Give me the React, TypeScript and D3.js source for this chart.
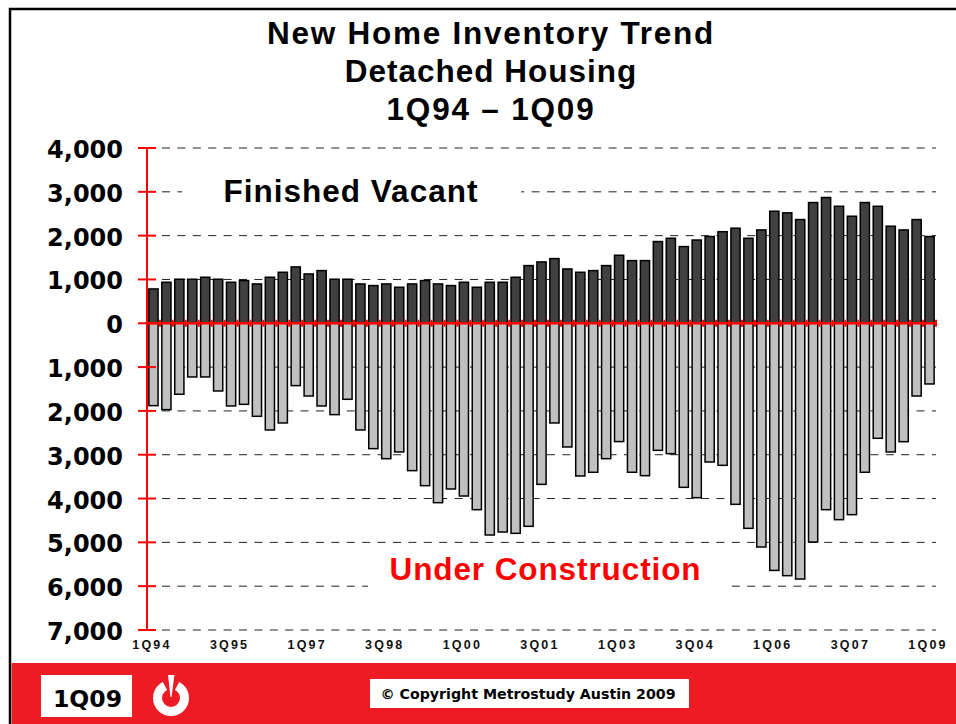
import React from "react";
import * as d3 from "d3";

const quarters = d3.range(0, 61).map((i) => {
  const yy = 94 + Math.floor(i / 4);
  return `${(i % 4) + 1}Q${String(yy % 100).padStart(2, "0")}`;
});
const finishedVacant = [784,936,1005,1005,1050,1005,936,974,898,1050,1164,1286,1126,1202,1005,1005,898,860,898,822,898,974,898,860,936,822,936,936,1050,1316,1400,1476,1240,1164,1202,1316,1552,1430,1430,1865,1940,1750,1900,1980,2090,2170,1940,2130,2557,2520,2367,2755,2870,2670,2443,2755,2670,2215,2130,2367,1980];
const underConstruction = [1880,1971,1620,1225,1225,1545,1887,1850,2123,2435,2275,1423,1660,1887,2085,1735,2435,2861,3090,2937,3363,3706,4094,3782,3942,4254,4832,4763,4794,4634,3676,2275,2823,3485,3400,3090,2700,3400,3478,2900,2976,3744,3980,3166,3242,4132,4680,5106,5640,5760,5837,4992,4254,4482,4368,3400,2625,2937,2702,1660,1385];
const yTicks = [4000,3000,2000,1000,0,-1000,-2000,-3000,-4000,-5000,-6000,-7000];
const xLabels = ["1Q94","3Q95","1Q97","3Q98","1Q00","3Q01","1Q03","3Q04","1Q06","3Q07","1Q09"];
const titleLines = ["New Home Inventory Trend","Detached Housing","1Q94 – 1Q09"];
const titleSpacing = [1.75,1.0,1.8];

const RED = "#ff0000";
const BAND = "#ed1c24";
const y = d3.scaleLinear().domain([4000,-7000]).range([148,630]);
const x = d3.scaleBand<string>().domain(quarters).range([147,936]).paddingInner(0.29).paddingOuter(0.145);
const fmt = d3.format(",");
const head = "'DejaVu Sans', sans-serif";
const arial = "'Liberation Sans', Arial, sans-serif";

export default function App() {
  const step = x.step();
  const half = (step - x.bandwidth()) / 2;
  return (
    <svg width={956} height={724} style={{position:"absolute",left:0,top:0,display:"block",background:"#fff"}}>
      <path d="M10 724V9H956" fill="none" stroke="#000" strokeWidth={2.5}/>
      {titleLines.map((t,i)=>(
        <text key={t} x={491} y={[44,82,120][i]} textAnchor="middle" fontFamily={arial} fontWeight={700} fontSize={31.5} letterSpacing={titleSpacing[i]} fill="#000">{t}</text>
      ))}
      {yTicks.filter(v=>v!==0).map(v=>(
        <line key={v} x1={162} x2={936} y1={y(v)} y2={y(v)} stroke="#222" strokeWidth={1} strokeDasharray="8 7.4"/>
      ))}
      <rect x={182} y={172} width={339} height={38} fill="#fff"/>
      <rect x={368} y={552} width={362} height={40} fill="#fff"/>
      {quarters.map((q,i)=>(
        <g key={q}>
          <rect x={x(q)} y={y(finishedVacant[i])} width={x.bandwidth()} height={y(0)-y(finishedVacant[i])} fill="#404040" stroke="#000" strokeWidth={1.5}/>
          <rect x={x(q)} y={y(0)} width={x.bandwidth()} height={y(-underConstruction[i])-y(0)} fill="#c0c0c0" stroke="#000" strokeWidth={1.5}/>
        </g>
      ))}
      <line x1={147} x2={147} y1={148} y2={630} stroke={RED} strokeWidth={2}/>
      {yTicks.map(v=>(
        <line key={v} x1={138} x2={156} y1={y(v)} y2={y(v)} stroke={RED} strokeWidth={2}/>
      ))}
      <line x1={147} x2={936} y1={y(0)} y2={y(0)} stroke={RED} strokeWidth={2.5}/>
      {quarters.map(q=>(
        <line key={q} x1={(x(q) as number)-half} x2={(x(q) as number)-half} y1={y(0)-3.5} y2={y(0)+3.5} stroke={RED} strokeWidth={2}/>
      ))}
      <line x1={936} x2={936} y1={y(0)-3.5} y2={y(0)+3.5} stroke={RED} strokeWidth={2}/>
      {yTicks.map(v=>(
        <text key={v} x={123} y={y(v)+10} textAnchor="end" fontFamily={head} fontWeight={700} fontSize={24} fill="#000">{fmt(Math.abs(v))}</text>
      ))}
      {xLabels.map(l=>(
        <text key={l} x={(x(l) as number)+x.bandwidth()/2-1.5} y={649} textAnchor="middle" fontFamily={arial} fontWeight={700} fontSize={12.5} letterSpacing={2.2} fill="#111">{l}</text>
      ))}
      <text x={351} y={202} textAnchor="middle" fontFamily={arial} fontWeight={700} fontSize={31.5} letterSpacing={1} fill="#000">Finished Vacant</text>
      <text x={545.5} y={580} textAnchor="middle" fontFamily={arial} fontWeight={700} fontSize={31.5} letterSpacing={0.9} fill={RED}>Under Construction</text>
      <rect x={11.5} y={663} width={945} height={61} fill={BAND}/>
      <rect x={41} y={675} width={91} height={42} fill="#fff"/>
      <text x={87.5} y={707} textAnchor="middle" fontFamily={head} fontWeight={700} fontSize={23.5} fill="#000">1Q09</text>
      <circle cx={171} cy={698} r={13.5} fill="none" stroke="#fff" strokeWidth={9}/>
      <path d="M171 697L160 677H182Z" fill={BAND}/>
      <path d="M168 675H174.5L171.5 697H170.5Z" fill="#fff"/>
      <rect x={370} y={679} width={319} height={29} fill="#fff"/>
      <text x={528} y={699} textAnchor="middle" fontFamily={head} fontWeight={700} fontSize={14.2} fill="#000">© Copyright Metrostudy Austin 2009</text>
    </svg>
  );
}
